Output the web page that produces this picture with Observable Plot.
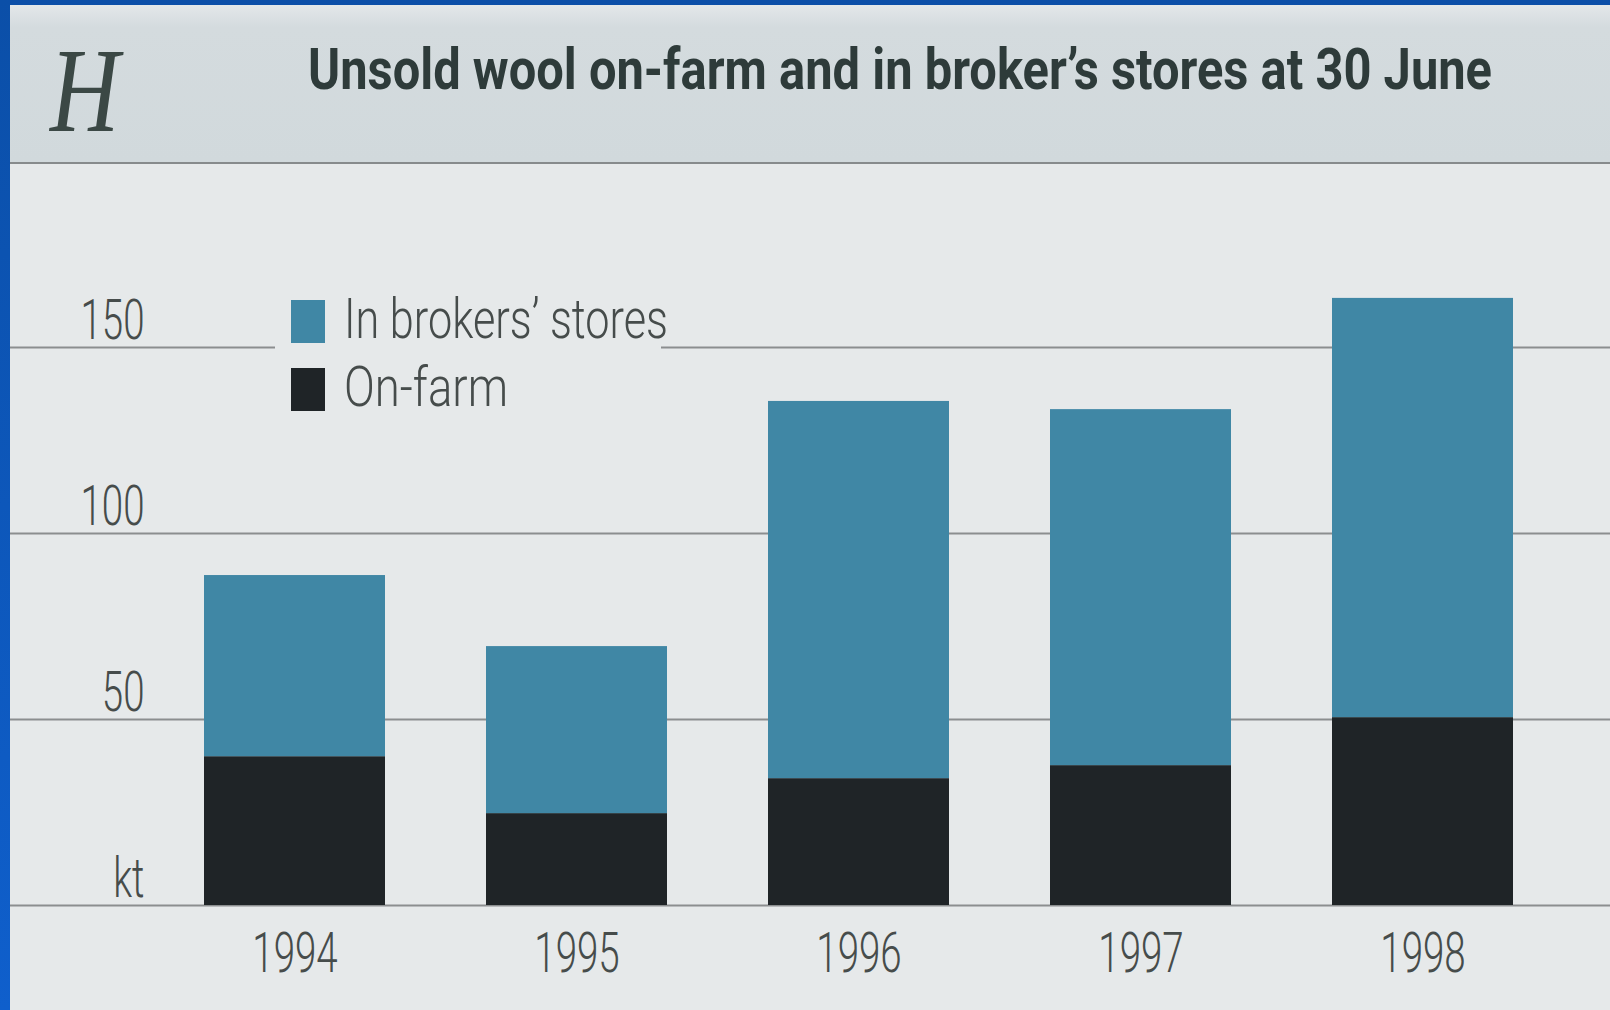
<!DOCTYPE html>
<html>
<head>
<meta charset="utf-8">
<script src="https://cdn.jsdelivr.net/npm/d3@7"></script>
<script src="https://cdn.jsdelivr.net/npm/@observablehq/plot@0.6"></script>
<style>
  html, body { margin: 0; padding: 0; }
  body { width: 1610px; height: 1010px; background: linear-gradient(to bottom, #0b4fa8, #0f5fcc); position: relative; overflow: hidden; font-family: Roboto, "Open Sans", sans-serif; }
  #panel { position: absolute; left: 10px; top: 5px; width: 1600px; height: 1005px; background: #e6e9ea; }
  #header { position: absolute; left: 10px; top: 5px; width: 1600px; height: 157px;
            background: linear-gradient(to bottom, #e3e7e9 0%, #d4dbde 14%, #d1d9dc 100%);
            border-bottom: 2px solid #878b8c; }
  #letter { position: absolute; left: 40px; top: 26px; font-family: "Liberation Serif", "DejaVu Serif", serif; font-style: italic;
            font-size: 120px; line-height: 1; color: #3b4845; transform: scaleX(0.8); transform-origin: left top; }
  #title { position: absolute; left: 308px; top: 40px; font-size: 58px; line-height: 1; font-weight: 700; color: #2e3b3a;
           white-space: nowrap; transform-origin: left top; }
  #chart { position: absolute; left: 10px; top: 164px; }
  #legend { position: absolute; left: 275px; top: 290px; width: 386px; height: 130px; background: #e6e9ea; }
  .sw { position: absolute; left: 16px; width: 34px; height: 43px; }
  .lt { position: absolute; left: 69px; font-size: 55px; line-height: 1; font-weight: 300; color: #464c4b; white-space: nowrap; transform-origin: left top; }
</style>
</head>
<body>
<div id="panel"></div>
<div id="header"><div id="letter">H</div></div>
<div id="title"></div>
<div id="chart"></div>
<div id="legend"></div>
<script>
// ---- data ----
const title = "Unsold wool on-farm and in broker’s stores at 30 June";
const years = ["1994", "1995", "1996", "1997", "1998"];
const onFarm = [40.0, 24.7, 34.1, 37.6, 50.5];
const inBrokers = [48.7, 44.9, 101.4, 95.7, 112.7];
const seriesNames = ["On-farm", "In brokers’ stores"];
const legendOrder = ["In brokers’ stores", "On-farm"];
const yTicks = [0, 50, 100, 150];
const yTickLabels = ["kt", "50", "100", "150"];

// ---- styles ----
const colors = {"On-farm": "#1f2427", "In brokers’ stores": "#4087a5"};
const textColor = "#464c4b";
const sx = 0.70;

const rows = [];
seriesNames.forEach((s) => {
  const vals = s === "On-farm" ? onFarm : inBrokers;
  years.forEach((yr, i) => rows.push({year: yr, series: s, value: vals[i]}));
});

const chart = Plot.plot({
  width: 1600,
  height: 846,
  marginTop: 183,
  marginBottom: 105,
  marginLeft: 0,
  marginRight: 0,
  style: {background: "transparent", fontFamily: "Roboto, 'Open Sans', sans-serif"},
  x: {domain: years, range: [144, 1554], paddingInner: 0.358, paddingOuter: 0.179, axis: null},
  y: {domain: [0, 150], axis: null},
  color: {domain: seriesNames, range: seriesNames.map((s) => colors[s])},
  marks: [
    Plot.ruleY(yTicks, {y: (d) => d, stroke: "#8b8e8f", strokeWidth: 2}),
    Plot.barY(rows, {x: "year", y: "value", fill: "series"}),
    Plot.text(yTicks, {
      y: (d) => d, text: (d, i) => yTickLabels[i], frameAnchor: "left", dx: 134, dy: -9,
      textAnchor: "end", lineAnchor: "bottom", fontSize: 55, fontWeight: 300, fill: textColor
    }),
    Plot.text(years, {
      x: (d) => d, y: () => 0, text: (d) => d, dy: 27,
      lineAnchor: "top", fontSize: 55, fontWeight: 300, fill: textColor
    })
  ]
});
document.getElementById("chart").appendChild(chart);

// condense SVG texts horizontally (the original lettering is narrow)
chart.querySelectorAll("text").forEach((t) => {
  const len = t.getComputedTextLength();
  t.setAttribute("lengthAdjust", "spacingAndGlyphs");
  t.setAttribute("textLength", (len * sx).toFixed(1));
});

// title
const titleEl = document.getElementById("title");
titleEl.textContent = title;
const tw = titleEl.getBoundingClientRect().width;
titleEl.style.transform = `scaleX(${1184 / tw})`;

// legend
const legend = document.getElementById("legend");
const legendTargets = {"In brokers’ stores": 324, "On-farm": 164};
legendOrder.forEach((s, i) => {
  const sw = document.createElement("div");
  sw.className = "sw";
  sw.style.top = (10 + i * 68) + "px";
  sw.style.background = colors[s];
  legend.appendChild(sw);
  const lt = document.createElement("div");
  lt.className = "lt";
  lt.style.top = (2 + i * 68) + "px";
  lt.textContent = s;
  legend.appendChild(lt);
  const w = lt.getBoundingClientRect().width;
  lt.style.transform = `scaleX(${legendTargets[s] / w})`;
});
</script>
</body>
</html>
